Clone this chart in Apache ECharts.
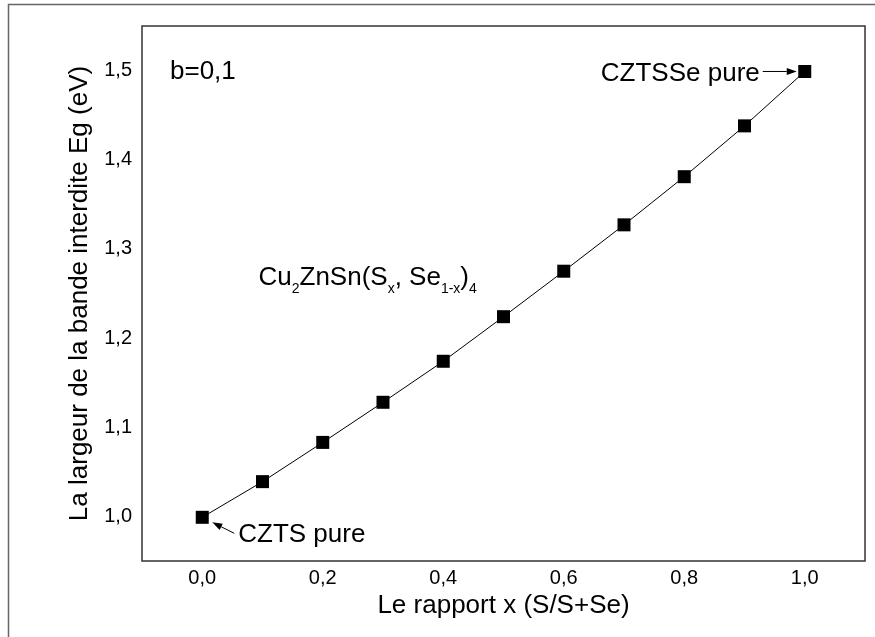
<!DOCTYPE html>
<html><head><meta charset="utf-8">
<script src="https://cdn.jsdelivr.net/npm/echarts@6/dist/echarts.min.js"></script>
<style>html,body{margin:0;padding:0;background:#fff}#c{width:875px;height:637px}</style>
</head><body><div id="c"></div>
<script>
const xValues = [0, 0.1, 0.2, 0.3, 0.4, 0.5, 0.6, 0.7, 0.8, 0.9, 1.0];
const egValues = [0.999, 1.039, 1.083, 1.128, 1.174, 1.224, 1.275, 1.327, 1.381, 1.438, 1.499];
const xTickLabels = ['0,0', '0,2', '0,4', '0,6', '0,8', '1,0'];
const yTickLabels = ['1,0', '1,1', '1,2', '1,3', '1,4', '1,5'];

const F = '"Liberation Sans", Arial, sans-serif';
const chart = echarts.init(document.getElementById('c'), null, {renderer: 'canvas'});
const fmt = v => v.toFixed(1).replace('.', ',');
const option = {
  animation: false,
  backgroundColor: '#fff',
  grid: {left: 142, top: 26, right: 10, bottom: 76, show: true, borderColor: '#333', borderWidth: 1.5},
  xAxis: {
    type: 'value', min: -0.1, max: 1.1, interval: 0.1,
    name: 'Le rapport x (S/S+Se)', nameLocation: 'middle', nameGap: 32,
    nameTextStyle: {fontFamily: F, fontSize: 26, color: '#000'},
    axisLine: {show: false}, axisTick: {show: false}, splitLine: {show: false},
    axisLabel: {
      fontFamily: F, fontSize: 20, color: '#000', margin: 7,
      formatter: v => { const s = fmt(v); return xTickLabels.includes(s) ? s : ''; }
    }
  },
  yAxis: {
    type: 'value', min: 0.95, max: 1.55, interval: 0.05,
    name: 'La largeur de la bande interdite Eg (eV)', nameLocation: 'middle', nameGap: 49,
    nameTextStyle: {fontFamily: F, fontSize: 26, color: '#000'},
    axisLine: {show: false}, axisTick: {show: false}, splitLine: {show: false},
    axisLabel: {
      fontFamily: F, fontSize: 20, color: '#000', margin: 10,
      formatter: v => { const r = Math.round(v * 100); if (r % 10 !== 0) return ''; const s = fmt(v); return yTickLabels.includes(s) ? s : ''; }
    }
  },
  series: [{
    type: 'line',
    data: xValues.map((x, i) => [x, egValues[i]]),
    symbol: 'rect', symbolSize: 13,
    itemStyle: {color: '#000'},
    lineStyle: {color: '#000', width: 1},
    z: 3
  }]
};
chart.setOption(option);

const p0 = chart.convertToPixel({gridIndex: 0}, [xValues[0], egValues[0]]);
const p1 = chart.convertToPixel({gridIndex: 0}, [xValues[xValues.length - 1], egValues[egValues.length - 1]]);
const tl = chart.convertToPixel({gridIndex: 0}, [-0.1, 1.55]);
const formula = chart.convertToPixel({gridIndex: 0}, [0.09, 1.27]);

function arrow(x1, y1, x2, y2) {
  const ang = Math.atan2(y2 - y1, x2 - x1);
  const L = 10, W = 3.5;
  const bx = x2 - L * Math.cos(ang), by = y2 - L * Math.sin(ang);
  const nx = -Math.sin(ang) * W, ny = Math.cos(ang) * W;
  return [
    {type: 'line', shape: {x1: x1, y1: y1, x2: bx, y2: by}, style: {stroke: '#000', lineWidth: 1}, z: 10},
    {type: 'polygon', shape: {points: [[x2, y2], [bx + nx, by + ny], [bx - nx, by - ny]]}, style: {fill: '#000'}, z: 10}
  ];
}

chart.setOption({
  graphic: [
    {type: 'polyline', shape: {points: [[8.5, 640], [8.5, 4.5], [880, 4.5]]}, style: {stroke: '#666', lineWidth: 1.5, fill: null}, silent: true},
    {type: 'text', x: tl[0] + 28, y: tl[1] + 46, style: {text: 'b=0,1', font: '26px ' + F, fill: '#000', textVerticalAlign: 'middle'}},
    {type: 'text', x: p0[0] + 36, y: p0[1] + 18, style: {text: 'CZTS pure', font: '26px ' + F, fill: '#000', textVerticalAlign: 'middle'}},
    ...arrow(p0[0] + 32, p0[1] + 16, p0[0] + 10, p0[1] + 5),
    {type: 'text', x: p1[0] - 45, y: p1[1] + 2, style: {text: 'CZTSSe pure', font: '26px ' + F, fill: '#000', textAlign: 'right', textVerticalAlign: 'middle'}},
    ...arrow(p1[0] - 42, p1[1], p1[0] - 8, p1[1]),
    {type: 'text', x: formula[0] + 2, y: formula[1], style: {
      text: '{m|Cu}{s|2}{m|ZnSn(S}{s|x}{m|, Se}{s|1-x}{m|)}{s|4}',
      textVerticalAlign: 'middle',
      rich: {
        m: {fontFamily: F, fontSize: 26, fill: '#000', color: '#000', verticalAlign: 'bottom', lineHeight: 30},
        s: {fontFamily: F, fontSize: 14, fill: '#000', color: '#000', verticalAlign: 'bottom', lineHeight: 16, padding: [0, 0, -5, 0]}
      }
    }}
  ]
});
</script></body></html>
